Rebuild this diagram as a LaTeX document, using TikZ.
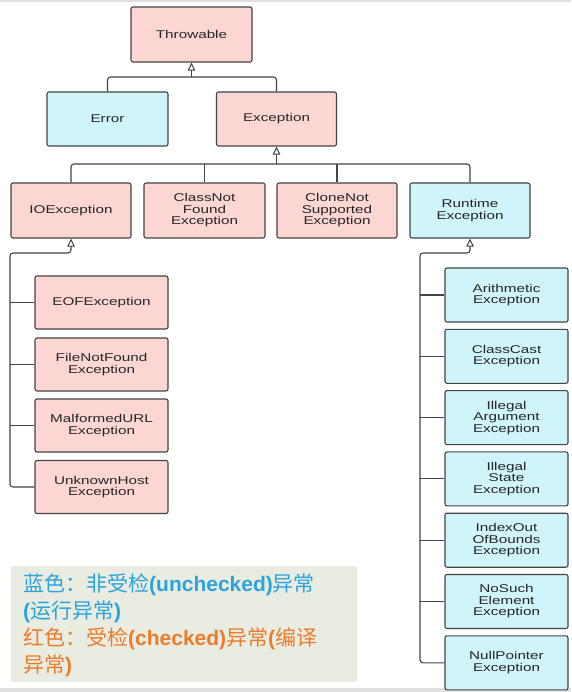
\documentclass[tikz,border=0pt]{standalone}
\usepackage{fontspec}
\setmainfont{Liberation Sans}
\newfontfamily\cjk{Noto Sans CJK SC}
\newfontfamily\boxfont[FakeStretch=1.35]{Liberation Sans}
\usetikzlibrary{arrows.meta}
\definecolor{redfill}{HTML}{FCD6D2}
\definecolor{bluefill}{HTML}{CFF4FA}
\definecolor{edge}{HTML}{444444}
\definecolor{boxtext}{HTML}{262626}
\definecolor{legfill}{HTML}{E9ECE0}
\definecolor{legblue}{HTML}{2AA3DF}
\definecolor{legorange}{HTML}{EC7C2C}
\tikzset{
  cls/.style={draw=edge, line width=1.1pt, rounded corners=2pt, align=center,
    text=boxtext, font=\boxfont\fontsize{11.3}{11.5}\selectfont, inner sep=1pt},
  chk/.style={cls, fill=redfill},
  unchk/.style={cls, fill=bluefill},
  conn/.style={draw=edge, line width=1.1pt, rounded corners=3pt},
  gen/.style={conn, -{Triangle[open, length=8pt, width=7.5pt, fill=white, line width=1pt]}},
}
\begin{document}
\begin{tikzpicture}[x=1pt, y=-1pt]
\useasboundingbox (0,0) rectangle (571,692);
\fill[white] (0,0) rectangle (571,692);
\fill[black!12] (0,0) rectangle (571,2);
\fill[black!12] (0,688) rectangle (571,692);
% level 1-2
\node[chk, minimum width=121pt, minimum height=55pt] (throwable) at (191.5,34.5) {Throwable};
\node[unchk, minimum width=121pt, minimum height=54pt] (error) at (107.5,119) {Error};
\node[chk, minimum width=120pt, minimum height=54pt] (exception) at (276.5,119) {Exception};
% level 3
\node[chk, minimum width=120pt, minimum height=55pt] (ioe) at (71,210.5) {IOException};
\node[chk, minimum width=121pt, minimum height=55pt] (cnf) at (204.5,210.5) {ClassNot\\Found\\Exception};
\node[chk, minimum width=120pt, minimum height=55pt] (cns) at (337,210.5) {CloneNot\\Supported\\Exception};
\node[unchk, minimum width=120pt, minimum height=55pt] (rte) at (470,210.5) {Runtime\\Exception};
% IO children
\node[chk, minimum width=133pt, minimum height=53pt] (eof) at (101.5,302.5) {EOFException};
\node[chk, minimum width=133pt, minimum height=53pt] (fnf) at (101.5,364.5) {FileNotFound\\Exception};
\node[chk, minimum width=133pt, minimum height=53pt] (mal) at (101.5,425.5) {MalformedURL\\Exception};
\node[chk, minimum width=133pt, minimum height=53pt] (uhe) at (101.5,487) {UnknownHost\\Exception};
% Runtime children
\node[unchk, minimum width=123pt, minimum height=54pt] (ari) at (506.5,295) {Arithmetic\\Exception};
\node[unchk, minimum width=123pt, minimum height=54pt] (ccs) at (506.5,356.3) {ClassCast\\Exception};
\node[unchk, minimum width=123pt, minimum height=54pt] (iae) at (506.5,417.6) {Illegal\\Argument\\Exception};
\node[unchk, minimum width=123pt, minimum height=54pt] (ise) at (506.5,478.9) {Illegal\\State\\Exception};
\node[unchk, minimum width=123pt, minimum height=54pt] (iob) at (506.5,540.2) {IndexOut\\OfBounds\\Exception};
\node[unchk, minimum width=123pt, minimum height=54pt] (nse) at (506.5,601.5) {NoSuch\\Element\\Exception};
\node[unchk, minimum width=123pt, minimum height=54pt] (npe) at (506.5,662.8) {NullPointer\\Exception};
% junctions
\coordinate (j1) at (191.5,77);
\coordinate (j2) at (276.5,164);
\coordinate (j3) at (10,253);
\coordinate (j4) at (420,253);
% connectors
\draw[conn] (error.north) |- (j1) -| (exception.north);
\draw[gen] (j1) -- (throwable.south);
\draw[conn] (ioe.north) |- (j2) -| (rte.north);
\draw[conn] (cnf.north) -- (cnf.north |- j2);
\draw[conn] (cns.north) -- (cns.north |- j2);
\draw[gen] (j2) -- (exception.south);
\draw[gen] (uhe.west) -| (j3) -| (ioe.south);
\foreach \c in {eof,fnf,mal} \draw[conn] (\c.west) -- (\c.west -| j3);
\draw[gen] (npe.west) -| (j4) -| (rte.south);
\foreach \c in {ari,ccs,iae,ise,iob,nse} \draw[conn] (\c.west) -- (\c.west -| j4);
% legend
\node[fill=legfill, minimum width=346pt, minimum height=116pt, inner sep=0pt] (legbox) at (184,624) {};
\node[anchor=north west, align=left, inner sep=0pt, font=\fontsize{21}{27}\selectfont]
  (legend) at (23,574) {%
  \color{legblue}{\cjk 蓝色：非受检}\textbf{(unchecked)}{\cjk 异常}\\
  \color{legblue}\textbf{(}{\cjk 运行异常}\textbf{)}\\
  \color{legorange}{\cjk 红色：受检}\textbf{(checked)}{\cjk 异常}\textbf{(}{\cjk 编译}\\
  \color{legorange}{\cjk 异常}\textbf{)}};
\end{tikzpicture}
\end{document}
